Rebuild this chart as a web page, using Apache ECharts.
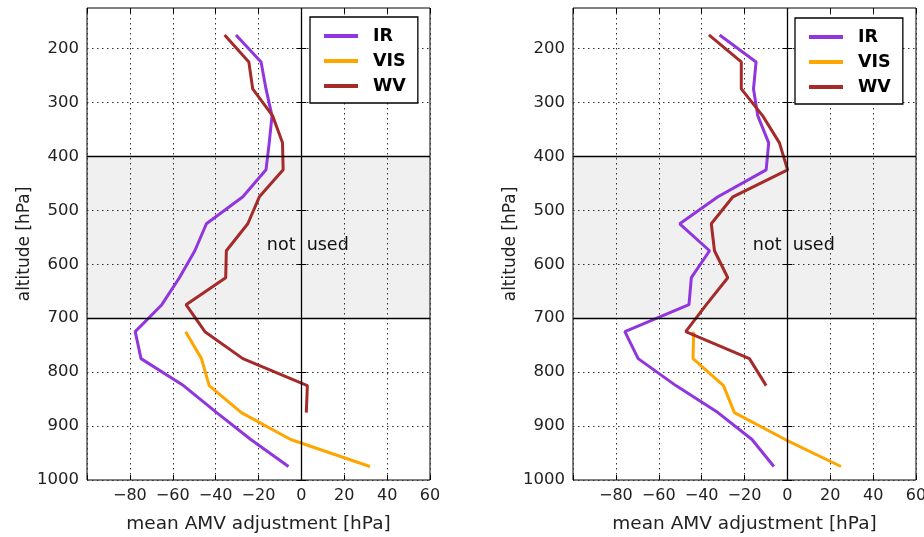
<!DOCTYPE html>
<html>
<head>
<meta charset="utf-8">
<script src="https://cdn.jsdelivr.net/npm/echarts@6/dist/echarts.min.js"></script>
<style>
html,body{margin:0;padding:0;background:#fff;}
#chart{width:924px;height:537px;}
</style>
</head>
<body>
<div id="chart"></div>
<script>
// pressure levels [hPa]
const levels = [175, 225, 275, 325, 375, 425, 475, 525, 575, 625, 675, 725, 775, 825, 875, 925, 975];
const yTicks = [200, 300, 400, 500, 600, 700, 800, 900, 1000];
const seriesNames = ['IR', 'VIS', 'WV'];

// left panel (mean AMV adjustment, hPa)
const leftIR  = [-30.5, -18.8, -16.5, -13.7, -15, -16.5, -27.3, -44.3, -49.7, -56.9, -65.1, -77.5, -74.8, -55, -39.5, -23.6, -6];
const leftVIS = [-54, -46.6, -43, -28, -5, 32];              // 725..975
const leftWV  = [-35.8, -24.5, -22.7, -13.4, -8.8, -8.5, -19.6, -25, -35, -35.3, -53.8, -45, -27.3, 2.8, 2.3]; // 175..875

// right panel
const rightIR  = [-31.6, -14.6, -15.8, -13.8, -8.7, -9.9, -32.4, -50.2, -36.3, -44.8, -45.9, -75.8, -69.6, -52, -32.4, -16.5, -6.3];
const rightVIS = [-43.7, -44, -29.8, -24.7, -1, 25];          // 725..975
const rightWV  = [-36.6, -21.5, -21.5, -11.5, -3.7, 0.1, -25.4, -35.5, -34, -27.8, -37.8, -47.4, -17.7, -9.9]; // 175..825

const visLevels = levels.slice(11);
const colors = {IR: '#9136DE', VIS: '#FFA500', WV: '#A52A2A'};
const FONT = 'DejaVu Sans';

function pairs(vals, levs) { return vals.map((v, i) => [v, levs[i]]); }

const grids = [
  {left: 87, top: 8, width: 343, height: 472, show: true, borderColor: '#000', borderWidth: 1, backgroundColor: 'transparent', containLabel: false, outerBoundsMode: 'none'},
  {left: 573, top: 8, width: 343, height: 472, show: true, borderColor: '#000', borderWidth: 1, backgroundColor: 'transparent', containLabel: false, outerBoundsMode: 'none'}
];

function xAx(gi, top) {
  return {
    type: 'value', gridIndex: gi, min: -100, max: 60, interval: 20,
    position: top ? 'top' : 'bottom',
    axisLine: {show: false},
    axisTick: {show: true, inside: true, length: 5, lineStyle: {color: '#000'}},
    axisLabel: top ? {show: false} : {
      show: true, margin: 8, color: '#222', fontFamily: FONT, fontSize: 16,
      formatter: v => v === -100 ? '' : (v < 0 ? '\u2212' + (-v) : String(v))
    },
    splitLine: top ? {show: false} : {show: true, lineStyle: {color: '#333', type: [1.5, 3.5], width: 1}},
    name: top ? '' : 'mean AMV adjustment [hPa]',
    nameLocation: 'middle', nameGap: 35,
    nameTextStyle: {fontFamily: FONT, fontSize: 18.5, color: '#222'}
  };
}
function yAx(gi, right) {
  return {
    type: 'value', gridIndex: gi, min: 125, max: 1000, inverse: true,
    position: right ? 'right' : 'left',
    axisLine: {show: false},
    axisTick: {show: true, inside: true, length: 5, customValues: yTicks, lineStyle: {color: '#000'}},
    axisLabel: right ? {show: false} : {show: true, margin: 8, customValues: yTicks, color: '#222', fontFamily: FONT, fontSize: 16.5,
      formatter: v => String(v)},
    splitLine: right ? {show: false} : {show: true, lineStyle: {color: '#333', type: [1.5, 3.5], width: 1}},
    name: right ? '' : 'altitude [hPa]',
    nameLocation: 'middle', nameGap: 52, nameRotate: 90,
    nameTextStyle: {fontFamily: FONT, fontSize: 17, color: '#222'}
  };
}

function decorations() {
  return {
    markArea: {
      silent: true,
      itemStyle: {color: 'rgba(0,0,0,0.06)'},
      data: [[{yAxis: 400, xAxis: -100}, {yAxis: 700, xAxis: 60}]]
    },
    markLine: {
      silent: true, symbol: 'none', animation: false,
      lineStyle: {color: '#000', type: 'solid', width: 1.3},
      label: {show: false},
      data: [{yAxis: 400}, {yAxis: 700}, {xAxis: 0}]
    },
    markPoint: {
      silent: true, symbol: 'circle', symbolSize: 0,
      label: {show: true, position: 'inside', formatter: 'not  used', color: '#111', fontFamily: FONT, fontSize: 17.5},
      data: [{coord: [3, 565]}]
    }
  };
}

function line(name, vals, levs, gi, extra) {
  return Object.assign({
    type: 'line', name: name, xAxisIndex: gi, yAxisIndex: gi,
    data: pairs(vals, levs), showSymbol: false, symbol: 'none',
    lineStyle: {width: 3, color: colors[name]}, itemStyle: {color: colors[name]},
    z: 3, animation: false
  }, extra || {});
}

function legend(left, top) {
  return {
    left: left, top: top, orient: 'vertical',
    data: seriesNames.map(n => ({name: n, icon: 'rect'})),
    itemWidth: 34, itemHeight: 4, itemGap: 5,
    padding: [9, 12, 7, 14],
    borderColor: '#000', borderWidth: 1.3, backgroundColor: '#fff',
    textStyle: {fontFamily: FONT, fontWeight: 'bold', fontSize: 17.5, color: '#000', lineHeight: 20, padding: [0, 0, 0, 10]},
    selectedMode: false
  };
}

const chart = echarts.init(document.getElementById('chart'), null, {renderer: 'canvas'});
chart.setOption({
  animation: false,
  backgroundColor: '#fff',
  grid: grids,
  xAxis: [xAx(0, false), xAx(1, false), xAx(0, true), xAx(1, true)],
  yAxis: [yAx(0, false), yAx(1, false), yAx(0, true), yAx(1, true)],
  legend: [legend(310, 17), legend(795, 18)],
  series: [
    line('IR', leftIR, levels, 0, decorations()),
    line('VIS', leftVIS, visLevels, 0),
    line('WV', leftWV, levels, 0),
    line('IR', rightIR, levels, 1, decorations()),
    line('VIS', rightVIS, visLevels, 1),
    line('WV', rightWV, levels, 1)
  ]
});
</script>
</body>
</html>
